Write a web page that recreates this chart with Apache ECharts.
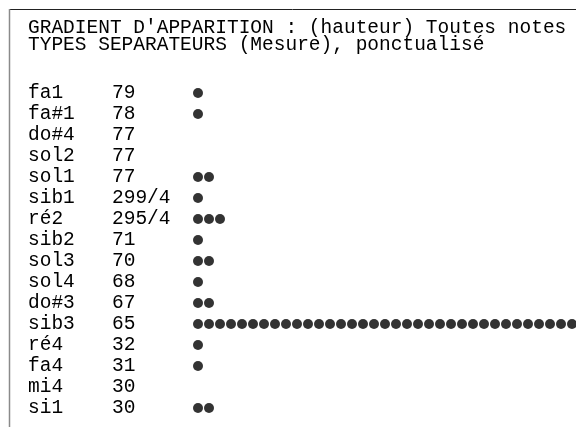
<!DOCTYPE html>
<html>
<head>
<meta charset="utf-8">
<style>
html,body{margin:0;padding:0;background:#fff;}
#chart{width:576px;height:427px;}
</style>
<script src="https://cdn.jsdelivr.net/npm/echarts@6/dist/echarts.min.js"></script>
</head>
<body>
<div id="chart"></div>
<script>
const titleLines = [
  "GRADIENT D'APPARITION : (hauteur) Toutes notes",
  "TYPES SEPARATEURS (Mesure), ponctualisé"
];
const categories = ["fa1","fa#1","do#4","sol2","sol1","sib1","ré2","sib2","sol3","sol4","do#3","sib3","ré4","fa4","mi4","si1"];
const valueLabels = ["79","78","77","77","77","299/4","295/4","71","70","68","67","65","32","31","30","30"];
const dotCounts = [1,1,0,0,2,1,3,1,2,1,2,35,1,1,0,2];

const FONT = '"Liberation Mono", "DejaVu Sans Mono", monospace';
const FS = 19.5;

const points = [];
dotCounts.forEach((n, row) => {
  for (let k = 0; k < n; k++) points.push([k, row]);
});

const gridLeft = 187;
const gridRight = 0;
const dotStep = 11;
const xMax = -1 + (576 - gridLeft - gridRight) / dotStep;

const chart = echarts.init(document.getElementById('chart'));
chart.setOption({
  backgroundColor: '#ffffff',
  animation: false,
  title: {
    text: titleLines.join('\n'),
    left: 28,
    top: 19,
    padding: 0,
    textStyle: {
      fontFamily: FONT,
      fontSize: FS,
      fontWeight: 'normal',
      color: '#000',
      lineHeight: 17.5
    }
  },
  graphic: [
    { type: 'line', shape: { x1: 9, y1: 9.5, x2: 576, y2: 9.5 }, style: { stroke: '#222', lineWidth: 1 } },
    { type: 'line', shape: { x1: 9.5, y1: 9, x2: 9.5, y2: 427 }, style: { stroke: '#8a8a8a', lineWidth: 1.5 } }
  ],
  grid: { left: gridLeft, right: gridRight, top: 82.5, bottom: 8.5 },
  xAxis: {
    type: 'value', min: -1, max: xMax,
    show: false
  },
  yAxis: {
    type: 'category',
    data: categories,
    inverse: true,
    axisLine: { show: false },
    axisTick: { show: false },
    splitLine: { show: false },
    axisLabel: {
      align: 'left',
      margin: gridLeft - 28,
      formatter: (val, idx) => '{n|' + val + '}{v|' + valueLabels[idx] + '}',
      rich: {
        n: { width: 84, fontFamily: FONT, fontSize: FS, color: '#000', align: 'left' },
        v: { fontFamily: FONT, fontSize: FS, color: '#000', align: 'left' }
      }
    }
  },
  series: [{
    type: 'scatter',
    data: points,
    symbol: 'circle',
    symbolSize: 10,
    clip: false,
    itemStyle: { color: '#000' }
  }]
});
</script>
</body>
</html>
